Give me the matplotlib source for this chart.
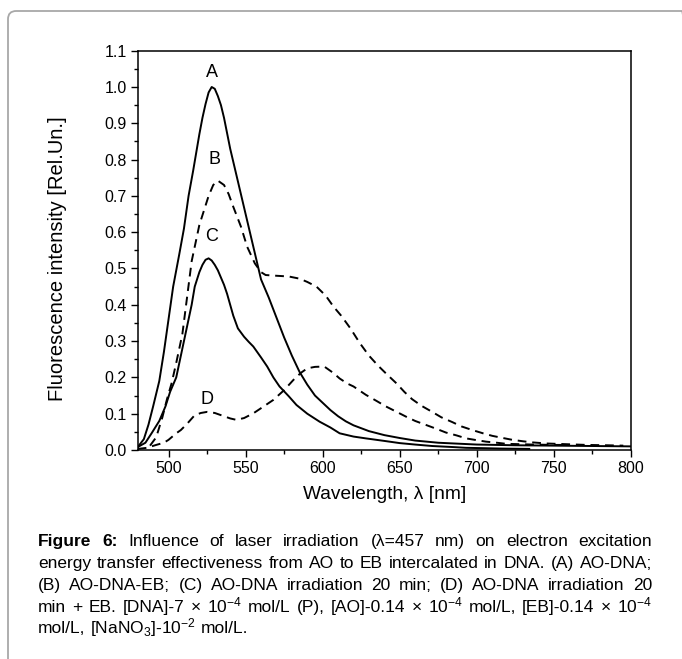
import matplotlib
matplotlib.use('Agg')
import matplotlib.pyplot as plt
from matplotlib.patches import FancyBboxPatch
from matplotlib.ticker import MultipleLocator

plt.rcParams['font.family'] = ['Liberation Sans', 'DejaVu Sans']
plt.rcParams['mathtext.fontset'] = 'custom'
plt.rcParams['mathtext.rm'] = 'Liberation Sans'
plt.rcParams['mathtext.it'] = 'Liberation Sans:italic'
plt.rcParams['mathtext.bf'] = 'Liberation Sans:bold'

# curve A: AO-DNA (solid)
wl_a = [480, 484, 487, 490, 494, 497, 500, 503, 507, 510, 513, 516, 520, 522, 524, 526, 528,
        530, 532, 534, 536, 540, 545, 550, 555, 560, 565, 570, 575, 580, 585, 590, 595, 600,
        605, 610, 615, 620, 630, 640, 650, 660, 675, 700, 725, 750, 775, 800]
int_a = [0.008, 0.03, 0.07, 0.12, 0.19, 0.27, 0.36, 0.45, 0.54, 0.61, 0.70, 0.77, 0.87, 0.915, 0.953, 0.985, 1.00,
         0.995, 0.975, 0.95, 0.915, 0.83, 0.74, 0.65, 0.56, 0.47, 0.42, 0.365, 0.31, 0.26, 0.215, 0.18, 0.15, 0.13,
         0.11, 0.093, 0.079, 0.068, 0.052, 0.041, 0.033, 0.026, 0.02, 0.015, 0.013, 0.012, 0.011, 0.01]

# curve B: AO-DNA-EB (dashed)
wl_b = [488, 492, 496, 499, 502, 505, 509, 512, 515, 518, 520, 523, 526, 529, 532,
        536, 539, 542, 547, 551, 556, 560, 563, 570, 578, 585, 590, 596, 602, 607,
        612, 618, 624, 630, 636, 642, 648, 653, 658, 664, 671, 677, 684, 690, 697,
        704, 710, 717, 723, 730, 736, 745, 758, 771, 785, 795]
int_b = [0.012, 0.035, 0.09, 0.14, 0.184, 0.24, 0.32, 0.42, 0.52, 0.58, 0.62, 0.66, 0.70, 0.73, 0.742,
         0.73, 0.705, 0.67, 0.615, 0.56, 0.514, 0.49, 0.482, 0.48, 0.478, 0.472, 0.463, 0.45, 0.425, 0.395,
         0.37, 0.335, 0.295, 0.26, 0.232, 0.207, 0.183, 0.16, 0.14, 0.122, 0.105, 0.09, 0.077, 0.065, 0.055,
         0.046, 0.039, 0.033, 0.028, 0.024, 0.021, 0.018, 0.016, 0.014, 0.013, 0.012]

# curve C: AO-DNA irradiated 20 min (solid)
wl_c = [480, 485, 489, 494, 498, 501, 505, 508, 511, 515, 517, 520, 522, 524, 526, 528,
        530, 532, 534, 536, 538, 542, 545, 549, 552, 555, 560, 564, 568, 572, 578, 583, 590, 598,
        605, 611, 616, 620, 628, 640, 650, 660, 671, 685, 693, 705, 715, 734]
int_c = [0.008, 0.02, 0.046, 0.08, 0.12, 0.16, 0.20, 0.26, 0.32, 0.40, 0.45, 0.49, 0.51, 0.524, 0.528, 0.522,
         0.51, 0.495, 0.475, 0.455, 0.43, 0.37, 0.335, 0.312, 0.298, 0.285, 0.255, 0.23, 0.20, 0.175, 0.148, 0.124,
         0.10, 0.078,
         0.062, 0.046, 0.041, 0.037, 0.032, 0.025, 0.019, 0.015, 0.011, 0.008, 0.006, 0.005, 0.004, 0.003]

# curve D: AO-DNA irradiated 20 min + EB (dashed)
wl_d = [480, 486, 492, 497, 500, 505, 508, 512, 517, 521, 525, 530, 534, 540, 544,
        549, 555, 561, 568, 575, 581, 586, 590, 595, 601, 607, 611, 616, 620, 628,
        635, 641, 648, 654, 660, 667, 674, 680, 687, 693, 700, 706, 713, 719, 728,
        736, 750, 760]
int_d = [0.003, 0.006, 0.014, 0.02, 0.028, 0.046, 0.055, 0.072, 0.096, 0.102, 0.105, 0.102, 0.096, 0.087, 0.083,
         0.088, 0.101, 0.118, 0.138, 0.165, 0.193, 0.213, 0.225, 0.229, 0.23, 0.212, 0.197, 0.183, 0.175, 0.152,
         0.135, 0.12, 0.105, 0.092, 0.08, 0.069, 0.058, 0.048, 0.04, 0.032, 0.027, 0.023, 0.02, 0.017, 0.016,
         0.015, 0.014, 0.014]

curve_labels = ['A', 'B', 'C', 'D']
label_pos = [(528, 1.04), (530, 0.80), (528, 0.588), (525, 0.138)]

caption_lines = [
    ['Figure', '6:', 'Influence', 'of', 'laser', 'irradiation', '(\u03bb=457', 'nm)', 'on',
     'electron', 'excitation'],
    ['energy', 'transfer', 'effectiveness', 'from', 'AO', 'to', 'EB', 'intercalated', 'in',
     'DNA.', '(A)', 'AO-DNA;'],
    ['(B)', 'AO-DNA-EB;', '(C)', 'AO-DNA', 'irradiation', '20', 'min;', '(D)', 'AO-DNA',
     'irradiation', '20'],
    ['min', '+', 'EB.', '[DNA]-7', '\u00d7', '10$^{-4}$', 'mol/L', '(P),', '[AO]-0.14', '\u00d7',
     '10$^{-4}$', 'mol/L,', '[EB]-0.14', '\u00d7', '10$^{-4}$'],
    ['mol/L,', '[NaNO$_{3}$]-10$^{-2}$', 'mol/L.'],
]

W, H = 682, 659
fig = plt.figure(figsize=(W / 100, H / 100), dpi=100)

# light rounded frame around the figure block
frame = FancyBboxPatch((8 / W, -0.05), 1.0, 1.05 - 11 / H, transform=fig.transFigure,
                       boxstyle='round,pad=0,rounding_size=0.012', fc='none',
                       ec='#a8a8a8', lw=1.3, mutation_aspect=W / H)
fig.patches.append(frame)

ax = fig.add_axes([137.7 / W, 1 - 450 / H, (631 - 137.7) / W, (450 - 50.7) / H])

lw = 1.4
ax.plot(wl_a, int_a, color='black', lw=lw)
ax.plot(wl_b, int_b, color='black', lw=lw, linestyle=(0, (4.5, 3)))
ax.plot(wl_c, int_c, color='black', lw=lw)
ax.plot(wl_d, int_d, color='black', lw=lw, linestyle=(0, (4.5, 3)))

for lab, (x, y) in zip(curve_labels, label_pos):
    ax.text(x, y, lab, fontsize=13, ha='center', va='center')

ax.set_xlim(480, 800)
ax.set_ylim(0, 1.1)
ax.xaxis.set_major_locator(MultipleLocator(50))
ax.xaxis.set_minor_locator(MultipleLocator(25))
ax.yaxis.set_major_locator(MultipleLocator(0.1))
ax.yaxis.set_minor_locator(MultipleLocator(0.05))
ax.yaxis.set_major_formatter(plt.FuncFormatter(lambda v, p: '%.1f' % v))
ax.tick_params(which='major', direction='out', length=5, width=1.0, labelsize=11.5, pad=3)
ax.tick_params(which='minor', direction='out', length=3, width=1.0)
for s in ax.spines.values():
    s.set_linewidth(1.1)

ax.set_xlabel('Wavelength, \u03bb [nm]', fontsize=13.8, labelpad=7)
ax.set_ylabel('Fluorescence intensity [Rel.Un.]', fontsize=14.5)
ax.yaxis.set_label_coords((67 - 137.7) / (631 - 137.7), (450 - 259) / (450 - 50.7))

# justified caption below the plot
fig.canvas.draw()
renderer = fig.canvas.get_renderer()
x_left, x_right = 38, 652
line_y = [546, 568, 590, 612, 633]
cap_size = 12.5
space_px = cap_size * 100 / 72 * 0.278
for i, words in enumerate(caption_lines):
    texts = []
    for j, w in enumerate(words):
        bold = (i == 0 and j < 2)
        t = fig.text(0, 1 - line_y[i] / H, w, fontsize=cap_size, va='baseline',
                     fontweight='bold' if bold else 'normal')
        texts.append(t)
    widths = [t.get_window_extent(renderer).width for t in texts]
    if i < len(caption_lines) - 1:
        gap = (x_right - x_left - sum(widths)) / (len(words) - 1)
    else:
        gap = space_px
    x = x_left
    for t, wdt in zip(texts, widths):
        t.set_x(x / W)
        x += wdt + gap

fig.savefig('out.png', dpi=100)
